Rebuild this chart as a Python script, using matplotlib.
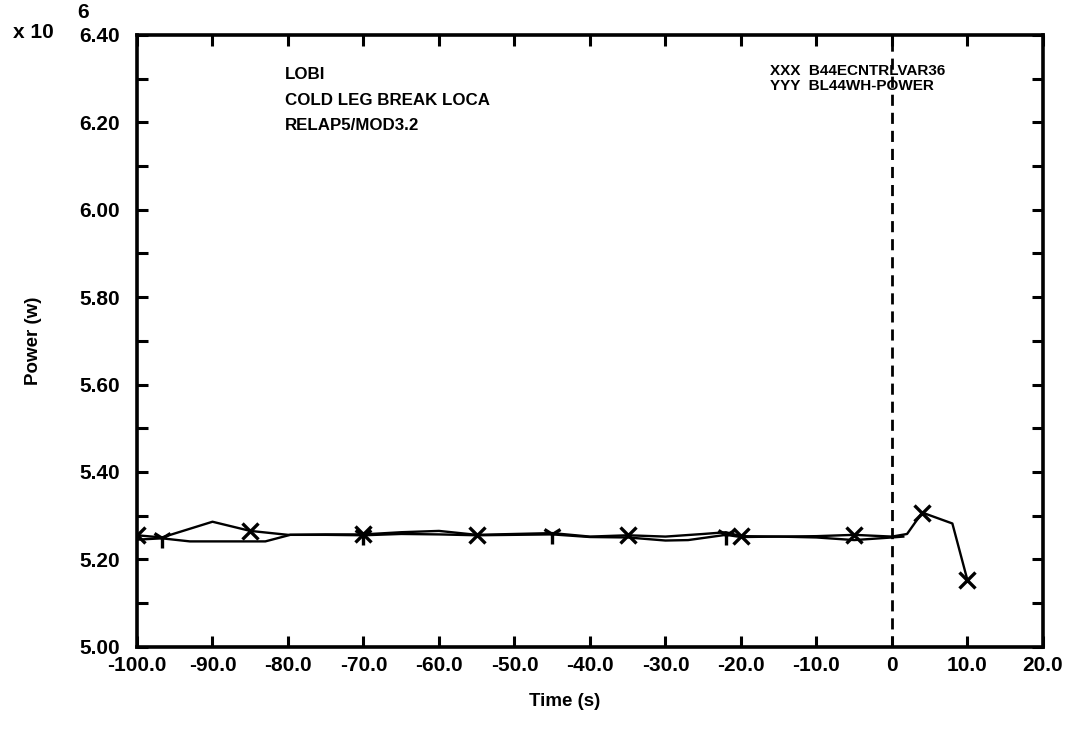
import numpy as np
import matplotlib
matplotlib.use('Agg')
import matplotlib.pyplot as plt
from matplotlib.ticker import MultipleLocator


# B44ECNTRLVAR36 (XXX), values in units of 1e6 W
time_xxx = [-100, -96.7, -90, -85, -80, -75, -70, -65, -60, -55, -50, -45, -40, -35,
            -30, -25, -22, -20, -15, -10, -5, 0, 2, 4, 8, 10]
power_xxx = [5.255, 5.250, 5.286, 5.265, 5.256, 5.257, 5.257, 5.262, 5.265, 5.256,
             5.258, 5.260, 5.252, 5.255, 5.252, 5.258, 5.262, 5.253, 5.252, 5.253,
             5.256, 5.252, 5.258, 5.307, 5.282, 5.152]
marks_xxx = [-100, -85, -70, -55, -35, -20, -5, 4, 10]

# BL44WH-POWER (YYY)
time_yyy = [-100, -96.7, -93, -83, -79.7, -75, -70, -65, -60, -55, -50, -45, -40,
            -35, -30, -27, -22, -20, -15, -10, -5, 0, 1.5]
power_yyy = [5.245, 5.248, 5.241, 5.241, 5.256, 5.256, 5.255, 5.258, 5.257, 5.255,
             5.256, 5.257, 5.251, 5.250, 5.243, 5.244, 5.256, 5.251, 5.252, 5.250,
             5.244, 5.250, 5.252]
marks_yyy = [-96.7, -70, -45, -22]

x_ticks = [-100, -90, -80, -70, -60, -50, -40, -30, -20, -10, 0, 10, 20]
x_labels = ['-100.0', '-90.0', '-80.0', '-70.0', '-60.0', '-50.0', '-40.0',
            '-30.0', '-20.0', '-10.0', '0', '10.0', '20.0']
y_ticks = [5.00, 5.20, 5.40, 5.60, 5.80, 6.00, 6.20, 6.40]

plt.rcParams['font.family'] = ['Liberation Sans', 'DejaVu Sans']
plt.rcParams['font.weight'] = 'bold'

fig = plt.figure(figsize=(10.77, 7.29), dpi=100)
ax = fig.add_axes([0.1272, 0.1129, 0.8412, 0.8391])

# curves
ax.plot(time_xxx, power_xxx, color='black', lw=1.7, zorder=3)
ax.plot(time_yyy, power_yyy, color='black', lw=1.7, zorder=3)

# markers sit on the curves
mx = np.interp(marks_xxx, time_xxx, power_xxx)
my = np.interp(marks_yyy, time_yyy, power_yyy)
ax.plot(marks_xxx, mx, ls='none', marker='x', ms=11, mew=2.4, color='black', zorder=4)
ax.plot(marks_yyy, my, ls='none', marker='1', ms=14, mew=2.4, color='black', zorder=4)

# event line at t = 0
ax.axvline(0, color='black', lw=2, dashes=(4, 2.5), zorder=2)

ax.set_xlim(-100, 20)
ax.set_ylim(5.0, 6.4)
ax.set_xticks(x_ticks)
ax.set_xticklabels(x_labels)
ax.set_yticks(y_ticks)
ax.set_yticklabels(['%.2f' % v for v in y_ticks])
ax.yaxis.set_minor_locator(MultipleLocator(0.1))

ax.tick_params(which='both', direction='in', top=True, right=True, length=8, width=2.2,
               labelsize=15)
ax.tick_params(axis='x', pad=7)
ax.tick_params(axis='y', pad=12)
for lab in ax.get_xticklabels() + ax.get_yticklabels():
    lab.set_fontweight('bold')
for sp in ax.spines.values():
    sp.set_linewidth(2.6)

ax.set_xlabel('Time (s)', fontsize=13.5, fontweight='bold')
ax.set_ylabel('Power (w)', fontsize=13.5, fontweight='bold')
ax.xaxis.set_label_coords(0.472, -0.076)
ax.yaxis.set_label_coords(-0.105, 0.5)

# scale factor at the top left
fig.text(13 / 1077, 1 - 32 / 729, 'x 10', fontsize=15, fontweight='bold', va='center')
fig.text(77 / 1077, 1 - 12 / 729, '6', fontsize=15, fontweight='bold', va='center')

# case description
ax.text(0.163, 0.948, 'LOBI\nCOLD LEG BREAK LOCA\nRELAP5/MOD3.2', transform=ax.transAxes,
        fontsize=12.2, fontweight='bold', va='top', linespacing=1.9)

# curve key
ax.text(0.699, 0.952, 'XXX  B44ECNTRLVAR36\nYYY  BL44WH-POWER', transform=ax.transAxes,
        fontsize=11, fontweight='bold', va='top', linespacing=1.1, zorder=5)

fig.savefig('out.png', dpi=100)
